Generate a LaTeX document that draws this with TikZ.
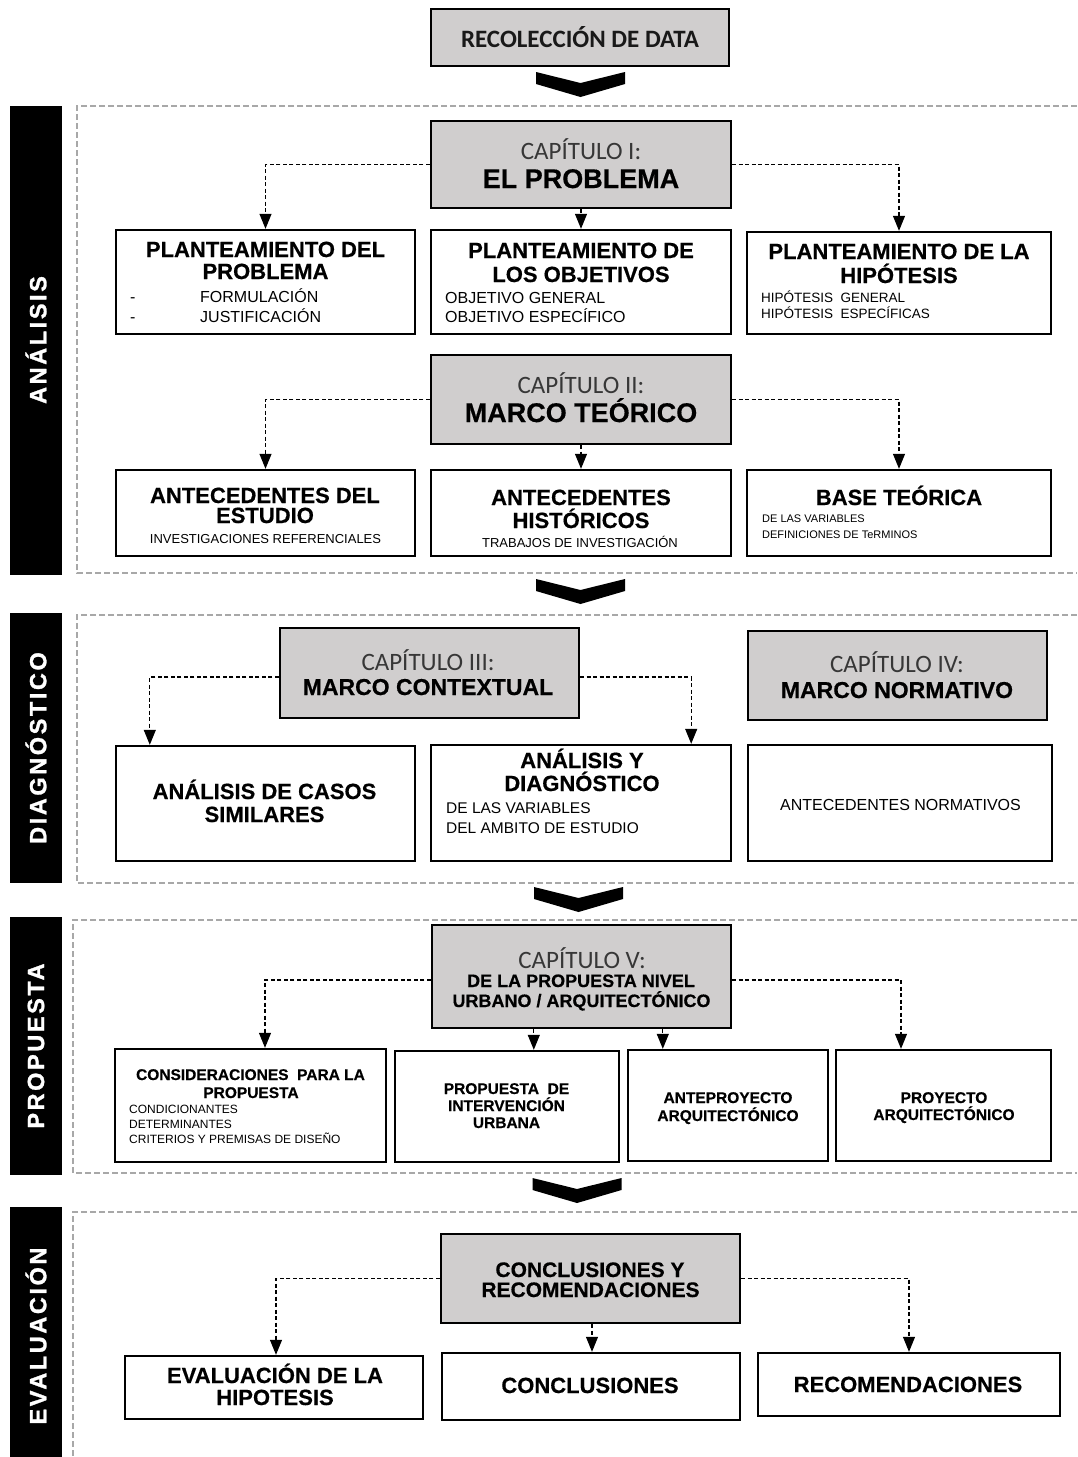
\documentclass[tikz,border=0pt]{standalone}
\usepackage{fontspec}
\setmainfont{Liberation Sans}
\newfontfamily\calib{Carlito}
\newfontfamily\sidefont[LetterSpace=11,FakeBold=1.2]{Liberation Sans Bold}
\newfontfamily\heavy[FakeBold=0.5]{Liberation Sans Bold}
\usetikzlibrary{arrows.meta,calc}
\definecolor{capgray}{RGB}{208,206,206}
\definecolor{framegray}{RGB}{168,168,168}
\definecolor{captext}{RGB}{55,55,55}
\newcommand\fsz[1]{\fontsize{#1}{#1}\selectfont}
\begin{document}
\begin{tikzpicture}[x=1pt,y=-1pt,
  wbox/.style={draw=black, line width=2.4pt, fill=white, rectangle, inner sep=0pt},
  gbox/.style={wbox, fill=capgray},
  lbl/.style={inner sep=0pt, anchor=base, text=black},
  lblw/.style={lbl, anchor=base west},
  tA/.style={lbl, font=\heavy\fsz{22}},
  tBig/.style={lbl, font=\heavy\fsz{27}},
  tM/.style={lbl, font=\heavy\fsz{23}},
  tC/.style={lbl, font=\heavy\fsz{21}},
  tS/.style={lbl, font=\heavy\fsz{18}},
  tP/.style={lbl, font=\heavy\fsz{15.5}},
  capt/.style={lbl, font=\calib\fsz{25}, text=captext},
  rec/.style={lbl, font=\calib\bfseries\fsz{25}, text=black!90},
  r16/.style={lblw, font=\fsz{16}},
  r16c/.style={lbl, font=\fsz{16}},
  r15/.style={lblw, font=\fsz{15.5}},
  r13/.style={lblw, font=\fsz{13.5}},
  r13c/.style={lbl, font=\fsz{13}},
  r12/.style={lblw, font=\fsz{12}},
  r11/.style={lblw, font=\fsz{11}},
  sidebar/.style={fill=black, inner sep=0pt, rotate=90, text=white, font=\sidefont\fsz{23.5}, minimum height=52pt},
  frame/.style={draw=framegray, line width=1.6pt, dash pattern=on 6pt off 3pt},
  conn/.style={draw=black, line width=1.1pt, dash pattern=on 4pt off 2.5pt, -{Triangle[width=12pt,length=15pt]}},
  chev/.pic={\fill[black] (-44.5,0) -- (0,11) -- (44.5,0) -- (44.5,12) -- (0,25) -- (-44.5,12) -- cycle;}
]
\useasboundingbox (0,0) rectangle (1077,1457);
\fill[white] (0,0) rectangle (1077,1457);

% frames
\draw[frame] (1077,106) -- (77,106) -- (77,573) -- (1077,573);
\draw[frame] (1077,615) -- (77,615) -- (77,883) -- (1077,883);
\draw[frame] (1077,920) -- (73,920) -- (73,1173) -- (1077,1173);
\draw[frame] (1077,1212) -- (73,1212) -- (73,1465);

% sidebars
\node[sidebar, minimum width=469pt] (sA) at (36,340) {ANÁLISIS};
\node[sidebar, minimum width=270pt] (sD) at (36,748) {DIAGNÓSTICO};
\node[sidebar, minimum width=258pt] (sP) at (36,1046) {PROPUESTA};
\node[sidebar, minimum width=258pt] (sE) at (36,1336) {EVALUACIÓN};

% chevrons
\pic at (580.5,72) {chev};
\pic at (580.5,579) {chev};
\pic at (578.5,887) {chev};
\pic at (577,1178) {chev};

% boxes
\node[gbox, minimum width=298pt, minimum height=57pt] (rec) at (580,37.5) {};
\node[gbox, minimum width=300pt, minimum height=87pt] (cap1) at (581,164.5) {};
\node[wbox, minimum width=299pt, minimum height=104pt] (pa) at (265.5,282) {};
\node[wbox, minimum width=300pt, minimum height=104pt] (pb) at (581,282) {};
\node[wbox, minimum width=304pt, minimum height=102pt] (pc) at (899,283) {};
\node[gbox, minimum width=300pt, minimum height=89pt] (cap2) at (581,399.5) {};
\node[wbox, minimum width=299pt, minimum height=86pt] (aa) at (265.5,513) {};
\node[wbox, minimum width=300pt, minimum height=86pt] (ab) at (581,513) {};
\node[wbox, minimum width=304pt, minimum height=86pt] (ac) at (899,513) {};
\node[gbox, minimum width=299pt, minimum height=90pt] (cap3) at (429.5,673) {};
\node[gbox, minimum width=299pt, minimum height=89pt] (cap4) at (897.5,675.5) {};
\node[wbox, minimum width=299pt, minimum height=115pt] (da) at (265.5,803.5) {};
\node[wbox, minimum width=300pt, minimum height=116pt] (db) at (581,803) {};
\node[wbox, minimum width=304pt, minimum height=116pt] (dc) at (900,803) {};
\node[gbox, minimum width=299pt, minimum height=103pt] (cap5) at (581.5,976.5) {};
\node[wbox, minimum width=271pt, minimum height=113pt] (pr1) at (250.5,1105.5) {};
\node[wbox, minimum width=224pt, minimum height=111pt] (pr2) at (507,1106.5) {};
\node[wbox, minimum width=200pt, minimum height=111pt] (pr3) at (728,1105.5) {};
\node[wbox, minimum width=215pt, minimum height=111pt] (pr4) at (943.5,1105.5) {};
\node[gbox, minimum width=299pt, minimum height=89pt] (cr) at (590.5,1278.5) {};
\node[wbox, minimum width=298pt, minimum height=63pt] (e1) at (274,1387.5) {};
\node[wbox, minimum width=298pt, minimum height=67pt] (e2) at (591,1386.5) {};
\node[wbox, minimum width=302pt, minimum height=63pt] (e3) at (909,1384.5) {};

% connectors
\draw[conn] (cap1.west) -| (pa.north);
\draw[conn] (cap1.east) -| (pc.north);
\draw[conn] (cap1.south) -- (pb.north);
\draw[conn] (cap2.west) -| (aa.north);
\draw[conn] (cap2.east) -| (ac.north);
\draw[conn] (cap2.south) -- (ab.north);
\coordinate (c3l) at ([yshift=-4pt]cap3.west);
\coordinate (c3r) at ([yshift=-4pt]cap3.east);
\coordinate (dal) at ([xshift=35pt]da.north west);
\coordinate (dbr) at ([xshift=-41pt]db.north east);
\draw[conn] (c3l) -| (dal);
\draw[conn] (c3r) -| (dbr);
\coordinate (c5l) at ([yshift=-3.5pt]cap5.west);
\coordinate (c5r) at ([yshift=-3.5pt]cap5.east);
\coordinate (p1t) at ([xshift=14.5pt]pr1.north);
\coordinate (p4t) at ([xshift=-42.5pt]pr4.north);
\coordinate (m1) at ([xshift=103pt]cap5.south west);
\coordinate (m2) at ([xshift=232pt]cap5.south west);
\draw[conn] (c5l) -| (p1t);
\draw[conn] (c5r) -| (p4t);
\draw[conn] (m1) -- (m1 |- pr2.north);
\draw[conn] (m2) -- (m2 |- pr3.north);
\coordinate (e1t) at ([xshift=2pt]e1.north);
\coordinate (crm) at ([xshift=1.5pt]cr.south);
\draw[conn] (cr.west) -| (e1t);
\draw[conn] (cr.east) -| (e3.north);
\draw[conn] (crm) -- (crm |- e2.north);

% texts
\node[rec] (recT) at (580,47) {RECOLECCIÓN DE DATA};
\node[capt] (c1a) at (581,159) {CAPÍTULO I:};
\node[tBig] (c1b) at (581,188) {EL PROBLEMA};

\node[tA] (paA) at (265.5,257) {PLANTEAMIENTO DEL};
\node[tA] (paB) at (265.5,279) {PROBLEMA};
\node[r16] (paC) at (130,302) {-};
\node[r16] (paD) at (200,302) {FORMULACIÓN};
\node[r16] (paE) at (130,322) {-};
\node[r16] (paF) at (200,322) {JUSTIFICACIÓN};

\node[tA] (pbA) at (581,258) {PLANTEAMIENTO DE};
\node[tA] (pbB) at (581,282) {LOS OBJETIVOS};
\node[r16] (pbC) at (445,303) {OBJETIVO GENERAL};
\node[r16] (pbD) at (445,322) {OBJETIVO ESPECÍFICO};

\node[tA] (pcA) at (899,259) {PLANTEAMIENTO DE LA};
\node[tA] (pcB) at (899,283) {HIPÓTESIS};
\node[r13] (pcC) at (761,302) {HIPÓTESIS~~GENERAL};
\node[r13] (pcD) at (761,318) {HIPÓTESIS~~ESPECÍFICAS};

\node[capt] (c2a) at (581,393) {CAPÍTULO II:};
\node[tBig] (c2b) at (581,422) {MARCO TEÓRICO};

\node[tA] (aaA) at (265,503) {ANTECEDENTES DEL};
\node[tA] (aaB) at (265,523) {ESTUDIO};
\node[r13c] (aaC) at (265.5,543) {INVESTIGACIONES REFERENCIALES};

\node[tA] (abA) at (581,505) {ANTECEDENTES};
\node[tA] (abB) at (581,528) {HISTÓRICOS};
\node[r13c] (abC) at (580,547) {TRABAJOS DE INVESTIGACIÓN};

\node[tA] (acA) at (899,505) {BASE TEÓRICA};
\node[r11] (acB) at (762,522) {DE LAS VARIABLES};
\node[r11] (acC) at (762,538) {DEFINICIONES DE TeRMINOS};

\node[capt] (c3a) at (428,670) {CAPÍTULO III:};
\node[tM] (c3b) at (428,695) {MARCO CONTEXTUAL};
\node[capt] (c4a) at (897,672) {CAPÍTULO IV:};
\node[tM] (c4b) at (897,698) {MARCO NORMATIVO};

\node[tA] (daA) at (264.5,799) {ANÁLISIS DE CASOS};
\node[tA] (daB) at (264.5,822) {SIMILARES};

\node[tA] (dbA) at (582,768) {ANÁLISIS Y};
\node[tA] (dbB) at (582,791) {DIAGNÓSTICO};
\node[r15] (dbC) at (446,813) {DE LAS VARIABLES};
\node[r15] (dbD) at (446,833) {DEL AMBITO DE ESTUDIO};

\node[r16c] (dcA) at (900.5,810) {ANTECEDENTES NORMATIVOS};

\node[capt] (c5a) at (582,968) {CAPÍTULO V:};
\node[tS] (c5b) at (581,987) {DE LA PROPUESTA NIVEL};
\node[tS] (c5c) at (581.5,1007) {URBANO / ARQUITECTÓNICO};

\node[tP] (p1A) at (250.5,1080) {CONSIDERACIONES~~PARA LA};
\node[tP] (p1B) at (251,1098) {PROPUESTA};
\node[r12] (p1C) at (129,1113) {CONDICIONANTES};
\node[r12] (p1D) at (129,1128) {DETERMINANTES};
\node[r12] (p1E) at (129,1143) {CRITERIOS Y PREMISAS DE DISEÑO};

\node[tP] (p2A) at (506.5,1094) {PROPUESTA~~DE};
\node[tP] (p2B) at (506.5,1111) {INTERVENCIÓN};
\node[tP] (p2C) at (506.5,1128) {URBANA};

\node[tP] (p3A) at (728,1103) {ANTEPROYECTO};
\node[tP] (p3B) at (728,1121) {ARQUITECTÓNICO};

\node[tP] (p4A) at (944,1103) {PROYECTO};
\node[tP] (p4B) at (944,1120) {ARQUITECTÓNICO};

\node[tC] (crA) at (590,1277) {CONCLUSIONES Y};
\node[tC] (crB) at (590.5,1297) {RECOMENDACIONES};

\node[tA] (e1A) at (275,1383) {EVALUACIÓN DE LA};
\node[tA] (e1B) at (275,1405) {HIPOTESIS};
\node[tA] (e2A) at (590,1393) {CONCLUSIONES};
\node[tA] (e3A) at (908,1392) {RECOMENDACIONES};
\end{tikzpicture}
\end{document}
